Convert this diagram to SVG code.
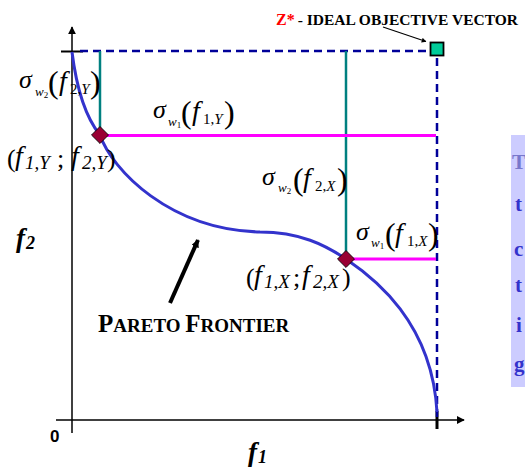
<svg xmlns="http://www.w3.org/2000/svg" width="525" height="472" viewBox="0 0 525 472">
<defs>
<style>
.ax{stroke:#000;stroke-width:1.5;fill:none}
.dash{stroke:#000099;stroke-width:2.5;stroke-dasharray:8,5;fill:none}
.teal{stroke:#008080;stroke-width:2.5;fill:none}
.mag{stroke:#FF00FF;stroke-width:3;fill:none}
.curve{stroke:#3333CC;stroke-width:3;fill:none}
.dia{fill:#990033;stroke:#000;stroke-width:0.8}
.t{font-family:"Liberation Serif",serif;fill:#000}
.i{font-style:italic}
.b{font-weight:bold}
.sig{font-size:26px;font-style:italic}
.w{font-size:13px;font-style:italic}
.par{font-size:32px}
.fv{font-size:28px;font-style:italic}
.sb{font-size:15px}
.bl{font-family:"Liberation Serif",serif;font-weight:bold;font-size:21px;fill:#3333CC}
</style>
<marker id="ah" viewBox="0 0 10 10" refX="9" refY="5" markerWidth="8" markerHeight="8" markerUnits="userSpaceOnUse" orient="auto"><path d="M0,0 L10,5 L0,10 z" fill="#000"/></marker>
<marker id="ah2" viewBox="0 0 10 10" refX="9" refY="5" markerWidth="4" markerHeight="4" orient="auto"><path d="M0,0 L10,5 L0,10 z" fill="#000"/></marker>
</defs>
<rect width="525" height="472" fill="#fff"/>

<g id="side-box">
<rect x="511" y="135" width="20" height="252" fill="#CCCCFF"/>
<text class="bl" x="512" y="169" style="fill:#7777CC">T</text>
<text class="bl" x="515" y="211">t</text>
<text class="bl" x="514" y="256">c</text>
<text class="bl" x="515" y="292">t</text>
<text class="bl" x="516" y="332">i</text>
<text class="bl" x="514" y="371">g</text>
</g>

<g id="axes">
<line class="ax" x1="72" y1="433" x2="72" y2="27" marker-end="url(#ah)"/>
<line class="ax" x1="56" y1="420" x2="464" y2="420" marker-end="url(#ah)"/>
<line x1="61" y1="51.5" x2="83" y2="51.5" stroke="#000" stroke-width="2"/>
<line x1="437" y1="411" x2="437" y2="429" stroke="#000" stroke-width="3"/>
<text class="b" x="50" y="442" font-family="Liberation Sans,sans-serif" font-size="17">0</text>
<text class="t i b" x="16" y="247" font-size="27">f<tspan font-size="18" dx="1" dy="2">2</tspan></text>
<text class="t i b" x="248" y="461" font-size="27">f<tspan font-size="18" dx="1" dy="2">1</tspan></text>
</g>

<g id="connectors">
<line class="dash" x1="80" y1="51" x2="430" y2="51"/>
<line class="dash" x1="437" y1="58" x2="437" y2="420"/>
<line class="teal" x1="100" y1="51" x2="100" y2="135"/>
<line class="teal" x1="346" y1="51" x2="346" y2="259"/>
<line class="mag" x1="100" y1="135.5" x2="436" y2="135.5"/>
<line class="mag" x1="346" y1="259" x2="436" y2="259"/>
<path class="curve" d="M72,52 C77,92 87,119 100,135 C112,170 170,230 260,232 C300,232 325,245 346,259 C374,278 432,322 437,412"/>
<line x1="170" y1="303" x2="198" y2="240" stroke="#000" stroke-width="4" marker-end="url(#ah)"/>
<line x1="383" y1="27" x2="426" y2="41.5" stroke="#000" stroke-width="1.2" marker-end="url(#ah2)"/>
</g>

<g id="ideal">
<rect x="430.5" y="42.5" width="13" height="13" fill="#00CC99" stroke="#000" stroke-width="1.8"/>
<text class="t b" x="276" y="25" font-size="15.5"><tspan fill="#FF0000" font-size="16">Z*</tspan><tspan dx="3">- IDEAL OBJECTIVE VECTOR</tspan></text>
</g>

<g id="point-Y">
<rect class="dia" x="94" y="129" width="12" height="12" transform="rotate(45 100 135)"/>
<text class="t"><tspan x="7" y="167" font-size="26">(</tspan><tspan class="i" x="15" y="165" font-size="28">f</tspan><tspan class="i" x="25" y="169" font-size="19">1,Y</tspan><tspan x="57" y="167" font-size="26">;</tspan><tspan class="i" x="71" y="165" font-size="28">f</tspan><tspan class="i" x="82" y="169" font-size="19">2,Y</tspan><tspan x="107" y="167" font-size="26">)</tspan></text>
</g>

<g id="point-X">
<rect class="dia" x="340" y="253" width="12" height="12" transform="rotate(45 346 259)"/>
<text class="t"><tspan x="246" y="286" font-size="26">(</tspan><tspan class="i" x="254" y="284" font-size="28">f</tspan><tspan class="i" x="264" y="288" font-size="19">1,X</tspan><tspan x="293" y="286" font-size="26">;</tspan><tspan class="i" x="302" y="284" font-size="28">f</tspan><tspan class="i" x="313" y="288" font-size="19">2,X</tspan><tspan x="342" y="286" font-size="26">)</tspan></text>
</g>

<g id="sigma-w2-Y">
<text class="t sig" x="19" y="88">σ</text>
<text class="t w" x="35" y="96">w<tspan font-style="normal" font-size="9" dy="2">2</tspan></text>
<text class="t par" x="48" y="93">(</text>
<text class="t fv" x="59" y="90">f</text>
<text class="t sb" x="70" y="94">2,<tspan class="i">Y</tspan></text>
<text class="t par" x="90" y="93">)</text>
</g>

<g id="sigma-w1-Y">
<text class="t sig" x="153" y="118">σ</text>
<text class="t w" x="168" y="126">w<tspan font-style="normal" font-size="9" dy="2">1</tspan></text>
<text class="t par" x="181" y="123">(</text>
<text class="t fv" x="192" y="120">f</text>
<text class="t sb" x="203" y="124">1,<tspan class="i">Y</tspan></text>
<text class="t par" x="224" y="123">)</text>
</g>

<g id="sigma-w2-X">
<text class="t sig" x="262" y="185">σ</text>
<text class="t w" x="278" y="192">w<tspan font-style="normal" font-size="9" dy="2">2</tspan></text>
<text class="t par" x="293" y="190">(</text>
<text class="t fv" x="303" y="187">f</text>
<text class="t sb" x="315" y="191">2,<tspan class="i">X</tspan></text>
<text class="t par" x="337" y="190">)</text>
</g>

<g id="sigma-w1-X">
<text class="t sig" x="356" y="240">σ</text>
<text class="t w" x="371" y="247">w<tspan font-style="normal" font-size="9" dy="2">1</tspan></text>
<text class="t par" x="385" y="245">(</text>
<text class="t fv" x="395" y="242">f</text>
<text class="t sb" x="407" y="246">1,<tspan class="i">X</tspan></text>
<text class="t par" x="428" y="245">)</text>
</g>

<g id="pareto-label">
<text class="t b" x="98" y="332" font-size="25">P<tspan font-size="19">ARETO </tspan>F<tspan font-size="19">RONTIER</tspan></text>
</g>
</svg>
